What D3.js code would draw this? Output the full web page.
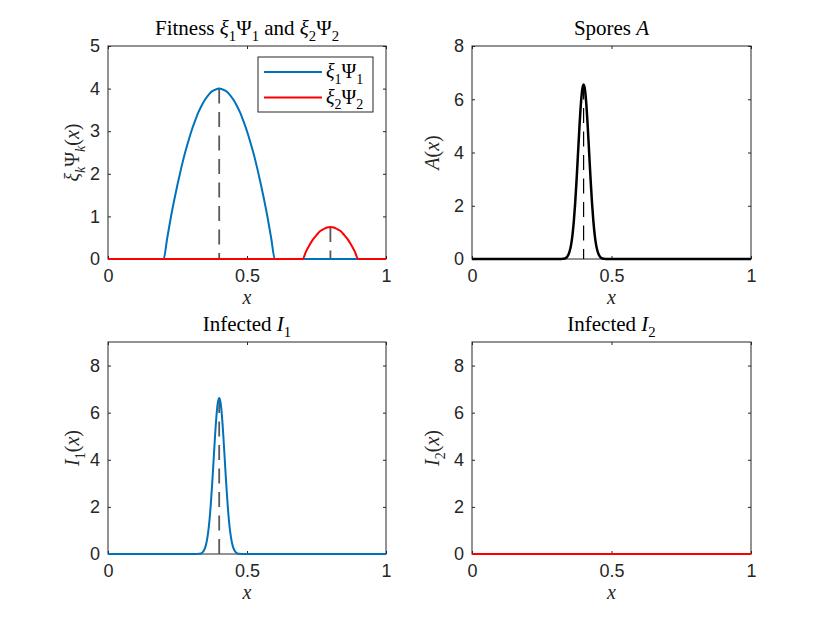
<!DOCTYPE html>
<html>
<head>
<meta charset="utf-8">
<script src="https://cdn.jsdelivr.net/npm/d3@7"></script>
<style>
  body { margin: 0; background: #fff; }
  text { white-space: pre; }
</style>
</head>
<body>
<div id="fig"></div>
<script>
// ---- data ----
// fitness xi1*Psi1 (blue) and xi2*Psi2 (red)
var fit1_x = [0, 0.2, 0.2125, 0.225, 0.2375, 0.25, 0.2625, 0.275, 0.2875, 0.3, 0.3125, 0.325, 0.3375, 0.35, 0.3625, 0.375, 0.3875,
              0.4, 0.4125, 0.425, 0.4375, 0.45, 0.4625, 0.475, 0.4875, 0.5, 0.5125, 0.525, 0.5375, 0.55, 0.5625, 0.575, 0.5875, 0.6, 1];
var fit1_y = [0, 0, 0.47, 0.94, 1.36, 1.75, 2.11, 2.44, 2.73, 3.00, 3.23, 3.44, 3.61, 3.75, 3.86, 3.94, 3.98,
              4.00, 3.98, 3.94, 3.86, 3.75, 3.61, 3.44, 3.23, 3.00, 2.73, 2.44, 2.11, 1.75, 1.36, 0.94, 0.47, 0, 0];
var fit2_x = [0, 0.7, 0.7125, 0.725, 0.7375, 0.75, 0.7625, 0.775, 0.7875, 0.8, 0.8125, 0.825, 0.8375, 0.85, 0.8625, 0.875, 0.8875, 0.9, 1];
var fit2_y = [0, 0, 0.18, 0.33, 0.46, 0.56, 0.65, 0.70, 0.74, 0.75, 0.74, 0.70, 0.65, 0.56, 0.46, 0.33, 0.18, 0, 0];
var fit_peak_x = [0.4, 0.8];
var fit_peak_y = [4.0, 0.75];

// spores A and infected I1 (narrow bumps), I2 (zero)
var bump_x = [0, 0.32, 0.325, 0.33, 0.335, 0.34, 0.345, 0.35, 0.355, 0.36, 0.365, 0.37, 0.375, 0.38, 0.385, 0.39, 0.395,
              0.4, 0.405, 0.41, 0.415, 0.42, 0.425, 0.43, 0.435, 0.44, 0.445, 0.45, 0.455, 0.46, 0.465, 0.47, 0.475, 0.48, 1];
var spores_y = [0, 0.00, 0.01, 0.01, 0.03, 0.07, 0.15, 0.29, 0.52, 0.89, 1.42, 2.13, 3.00, 3.97, 4.94, 5.78, 6.35,
                6.55, 6.35, 5.78, 4.94, 3.97, 3.00, 2.13, 1.42, 0.89, 0.52, 0.29, 0.15, 0.07, 0.03, 0.01, 0.01, 0.00, 0];
var inf1_y = [0, 0.00, 0.01, 0.01, 0.03, 0.07, 0.15, 0.29, 0.53, 0.90, 1.43, 2.15, 3.03, 4.01, 5.00, 5.84, 6.42,
              6.62, 6.42, 5.84, 5.00, 4.01, 3.03, 2.15, 1.43, 0.90, 0.53, 0.29, 0.15, 0.07, 0.03, 0.01, 0.01, 0.00, 0];
var inf2_x = [0, 1];
var inf2_y = [0, 0];
var bump_peak_x = 0.4;

var x_ticks = [0, 0.5, 1];
var x_tick_labels = ['0', '0.5', '1'];
var y_ticks_fit = [0, 1, 2, 3, 4, 5];
var y_ticks_even = [0, 2, 4, 6, 8];

var blue = '#0072BD', red = '#FF0000', axcol = '#262626';
var serif = '"Liberation Serif", "DejaVu Serif", serif';
var sans = '"Liberation Sans", Arial, Helvetica, sans-serif';

var svg = d3.select('#fig').append('svg')
            .attr('width', 830).attr('height', 623)
            .style('background', '#fff');

// [text, style]  r = roman, i = italic, s = subscript, si = italic subscript
function rich(sel, parts, size) {
  var shift = 0;
  parts.forEach(function(p) {
    var sub = p[1].charAt(0) === 's';
    var target = sub ? size * 0.28 : 0;
    sel.append('tspan').text(p[0])
       .attr('dy', target - shift)
       .attr('font-size', sub ? size * 0.7 : size)
       .attr('font-style', p[1].indexOf('i') >= 0 ? 'italic' : 'normal');
    shift = target;
  });
}

function makeAxes(box, ydomain, yticks, title, ylab, ylabOff) {
  var x = d3.scaleLinear().domain([0, 1]).range([box.l, box.r]);
  var y = d3.scaleLinear().domain(ydomain).range([box.b, box.t]);
  var g = svg.append('g');
  var tl = 3;

  g.append('rect').attr('x', box.l).attr('y', box.t)
   .attr('width', box.r - box.l).attr('height', box.b - box.t)
   .attr('fill', '#fff').attr('stroke', axcol).attr('stroke-width', 1);

  // axes with inward ticks, mirrored on top and right
  g.append('g').attr('transform', 'translate(0,' + box.b + ')')
   .call(d3.axisBottom(x).tickValues(x_ticks).tickSize(-tl).tickPadding(10)
           .tickFormat(function(d, i) { return x_tick_labels[i]; }));
  g.append('g').attr('transform', 'translate(0,' + box.t + ')')
   .call(d3.axisTop(x).tickValues(x_ticks).tickSize(-tl).tickFormat(''));
  g.append('g').attr('transform', 'translate(' + box.l + ',0)')
   .call(d3.axisLeft(y).tickValues(yticks).tickSize(-tl).tickPadding(8).tickFormat(d3.format('d')));
  g.append('g').attr('transform', 'translate(' + box.r + ',0)')
   .call(d3.axisRight(y).tickValues(yticks).tickSize(-tl).tickFormat(''));

  g.selectAll('.domain').remove();
  g.selectAll('.tick line').attr('stroke', axcol);
  g.selectAll('.tick text').attr('fill', axcol)
   .style('font-family', sans).style('font-size', '18px');

  var cx = (box.l + box.r) / 2;
  var tt = g.append('text').attr('x', cx).attr('y', box.t - 11)
            .attr('text-anchor', 'middle').attr('fill', '#000')
            .style('font-family', serif);
  rich(tt, title, 21);

  var xl = g.append('text').attr('x', cx).attr('y', box.b + 45)
            .attr('text-anchor', 'middle').attr('fill', axcol)
            .style('font-family', serif);
  rich(xl, [['x', 'i']], 20);

  var yl = g.append('text')
            .attr('transform', 'translate(' + (box.l - ylabOff) + ',' + ((box.t + box.b) / 2) + ') rotate(-90)')
            .attr('text-anchor', 'middle').attr('fill', axcol)
            .style('font-family', serif);
  rich(yl, ylab, 20);

  return { g: g, x: x, y: y };
}

function curve(ax, xs, ys, color, width) {
  var line = d3.line().x(function(d) { return ax.x(d[0]); })
                      .y(function(d) { return ax.y(d[1]); })
                      .curve(d3.curveMonotoneX);
  ax.g.append('path').datum(d3.zip(xs, ys))
      .attr('d', line).attr('fill', 'none')
      .attr('stroke', color).attr('stroke-width', width)
      .attr('stroke-linejoin', 'round');
}

// dashed marker from the peak down to zero
function dash(ax, xv, top, color, w) {
  ax.g.append('line')
      .attr('x1', ax.x(xv)).attr('x2', ax.x(xv))
      .attr('y1', ax.y(top)).attr('y2', ax.y(0))
      .attr('stroke', color).attr('stroke-width', w)
      .attr('stroke-dasharray', '15,8.5');
}

// ---- panel 1: fitness ----
var ax1 = makeAxes({ l: 108, r: 386, t: 46, b: 259 }, [0, 5], y_ticks_fit,
  [['Fitness ', 'r'], ['ξ', 'i'], ['1', 's'], ['Ψ', 'r'], ['1', 's'], [' and ', 'r'], ['ξ', 'i'], ['2', 's'], ['Ψ', 'r'], ['2', 's']],
  [['ξ', 'i'], ['k', 'si'], ['Ψ', 'r'], ['k', 'si'], ['(', 'r'], ['x', 'i'], [')', 'r']], 29);
fit_peak_x.forEach(function(px, i) { dash(ax1, px, fit_peak_y[i], '#595959', 1.8); });
curve(ax1, fit1_x, fit1_y, blue, 2);
curve(ax1, fit2_x, fit2_y, red, 2);

// legend
var lg = ax1.g.append('g').attr('transform', 'translate(258,57)');
lg.append('rect').attr('width', 115).attr('height', 55)
  .attr('fill', '#fff').attr('stroke', axcol).attr('stroke-width', 1);
[[blue, '1'], [red, '2']].forEach(function(e, i) {
  var yy = 15 + i * 25.5;
  lg.append('line').attr('x1', 6).attr('x2', 64).attr('y1', yy).attr('y2', yy)
    .attr('stroke', e[0]).attr('stroke-width', 2);
  var t = lg.append('text').attr('x', 68).attr('y', yy + 6)
            .attr('fill', '#000').style('font-family', serif);
  rich(t, [['ξ', 'i'], [e[1], 's'], ['Ψ', 'r'], [e[1], 's']], 20);
});

// ---- panel 2: spores ----
var ax2 = makeAxes({ l: 472, r: 751, t: 46, b: 259 }, [0, 8], y_ticks_even,
  [['Spores ', 'r'], ['A', 'i']],
  [['A', 'i'], ['(', 'r'], ['x', 'i'], [')', 'r']], 33);
dash(ax2, bump_peak_x, d3.max(spores_y), '#000', 1.2);
curve(ax2, bump_x, spores_y, '#000', 2.5);

// ---- panel 3: infected I1 ----
var ax3 = makeAxes({ l: 108, r: 386, t: 342, b: 554 }, [0, 9], y_ticks_even,
  [['Infected ', 'r'], ['I', 'i'], ['1', 's']],
  [['I', 'i'], ['1', 's'], ['(', 'r'], ['x', 'i'], [')', 'r']], 29);
dash(ax3, bump_peak_x, d3.max(inf1_y), '#595959', 1.8);
curve(ax3, bump_x, inf1_y, blue, 2);

// ---- panel 4: infected I2 ----
var ax4 = makeAxes({ l: 472, r: 751, t: 342, b: 554 }, [0, 9], y_ticks_even,
  [['Infected ', 'r'], ['I', 'i'], ['2', 's']],
  [['I', 'i'], ['2', 's'], ['(', 'r'], ['x', 'i'], [')', 'r']], 33);
curve(ax4, inf2_x, inf2_y, red, 2);
</script>
</body>
</html>
